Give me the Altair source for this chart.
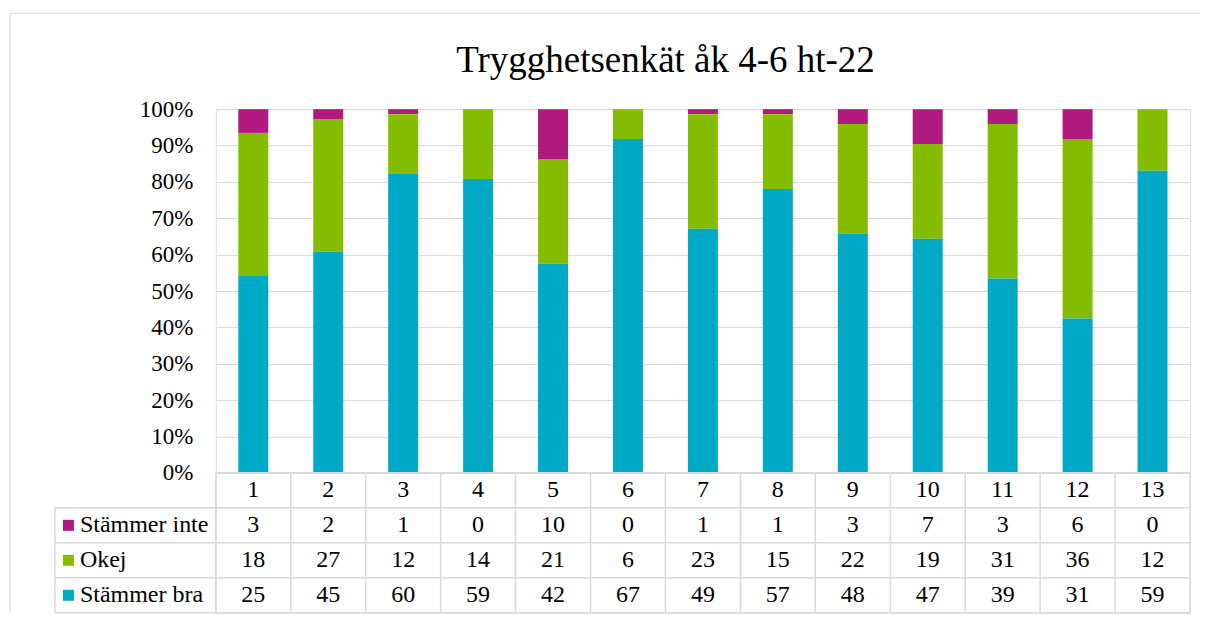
import altair as alt
import pandas as pd

title_text = "Trygghetsenkät åk 4-6 ht-22"
categories = [str(i) for i in range(1, 14)]
series = ["Stämmer inte", "Okej", "Stämmer bra"]
stammer_inte = [3, 2, 1, 0, 10, 0, 1, 1, 3, 7, 3, 6, 0]
okej = [18, 27, 12, 14, 21, 6, 23, 15, 22, 19, 31, 36, 12]
stammer_bra = [25, 45, 60, 59, 42, 67, 49, 57, 48, 47, 39, 31, 59]
colors = ["#B0197E", "#84BC00", "#00A9C6"]
y_ticks = [i / 10 for i in range(11)]

FONT = "'Times New Roman', 'Liberation Serif', 'DejaVu Serif', serif"
GRID = "#d9d9d9"
W, H = 975, 364
TH = 140
LEFT_COL = -161

recs = []
for s, vals in zip(series, [stammer_inte, okej, stammer_bra]):
    for c, v in zip(categories, vals):
        recs.append({"cat": c, "series": s, "count": v,
                     "stackorder": 2 - series.index(s), "row": s, "text": str(v)})
df = pd.DataFrame(recs)
hdr = pd.DataFrame({"cat": categories, "row": ["hdr"] * len(categories), "text": categories})
table_rows = ["hdr"] + series
dummy = pd.DataFrame({"a": [0]})

color_scale = alt.Scale(domain=series, range=colors)

bars = alt.Chart(df).mark_bar().encode(
    x=alt.X("cat:N", sort=categories,
            scale=alt.Scale(paddingInner=0.6, paddingOuter=0.3), axis=None),
    y=alt.Y("count:Q", stack="normalize", scale=alt.Scale(domain=[0, 1]),
            axis=alt.Axis(values=y_ticks, format=".0%", title=None, grid=True,
                          gridColor=GRID, domain=False, ticks=False,
                          labelPadding=23, labelFont=FONT, labelFontSize=23,
                          labelColor="#000000")),
    color=alt.Color("series:N", scale=color_scale, legend=None),
    order=alt.Order("stackorder:Q", sort="ascending"),
)

border_top = alt.Chart(dummy).mark_rule(color=GRID, strokeWidth=1).encode(
    x=alt.value(-206), x2=alt.value(984), y=alt.value(-96))
border_left = alt.Chart(dummy).mark_rule(color=GRID, strokeWidth=1).encode(
    x=alt.value(-206), y=alt.value(-96), y2=alt.value(504))
title_mark = alt.Chart(pd.DataFrame({"t": [title_text]})).mark_text(
    font=FONT, fontSize=37, color="#000000", align="center", baseline="alphabetic"
).encode(x=alt.value(450), y=alt.value(-37), text="t:N")

top = alt.layer(border_top, border_left, title_mark, bars).properties(width=W, height=H)

xs = alt.X("cat:N", sort=categories,
           scale=alt.Scale(type="band", paddingInner=0, paddingOuter=0), axis=None)
ys = alt.Y("row:N", sort=table_rows,
           scale=alt.Scale(type="band", domain=table_rows, paddingInner=0, paddingOuter=0),
           axis=None)

vlines = alt.Chart(hdr).mark_rule(color=GRID, strokeWidth=1.5).encode(
    x=alt.X("cat:N", sort=categories, bandPosition=0,
            scale=alt.Scale(type="band", paddingInner=0, paddingOuter=0), axis=None),
    y=alt.value(0), y2=alt.value(TH))
vright = alt.Chart(dummy).mark_rule(color=GRID, strokeWidth=1.5).encode(
    x=alt.value(W), y=alt.value(0), y2=alt.value(TH))
vleft = alt.Chart(pd.DataFrame({"row": [series[0]]})).mark_rule(color=GRID, strokeWidth=1.5).encode(
    x=alt.value(LEFT_COL),
    y=alt.Y("row:N", sort=table_rows, bandPosition=0,
            scale=alt.Scale(type="band", domain=table_rows, paddingInner=0, paddingOuter=0),
            axis=None),
    y2=alt.value(TH))
htop = alt.Chart(dummy).mark_rule(color=GRID, strokeWidth=1.5).encode(
    x=alt.value(0), x2=alt.value(W), y=alt.value(0))
hrows = alt.Chart(pd.DataFrame({"row": series})).mark_rule(color=GRID, strokeWidth=1.5).encode(
    x=alt.value(LEFT_COL), x2=alt.value(W),
    y=alt.Y("row:N", sort=table_rows, bandPosition=0,
            scale=alt.Scale(type="band", domain=table_rows, paddingInner=0, paddingOuter=0),
            axis=None))
hbottom = alt.Chart(dummy).mark_rule(color=GRID, strokeWidth=1.5).encode(
    x=alt.value(LEFT_COL), x2=alt.value(W), y=alt.value(TH))

txt_style = dict(font=FONT, fontSize=24, color="#000000", baseline="middle")
hdr_text = alt.Chart(hdr).mark_text(align="center", **txt_style).encode(x=xs, y=ys, text="text:N")
val_text = alt.Chart(df).mark_text(align="center", **txt_style).encode(x=xs, y=ys, text="text:N")
row_labels = alt.Chart(pd.DataFrame({"row": series})).mark_text(align="left", **txt_style).encode(
    x=alt.value(-136), y=ys, text="row:N")
squares = alt.Chart(pd.DataFrame({"row": series})).mark_square(size=121, opacity=1).encode(
    x=alt.value(-147.5), y=ys,
    color=alt.Color("row:N", scale=color_scale, legend=None))

table = alt.layer(vlines, vright, vleft, htop, hrows, hbottom,
                  hdr_text, val_text, row_labels, squares).properties(width=W, height=TH)

chart = alt.vconcat(top, table, spacing=0, bounds="flush").resolve_scale(
    x="independent", y="independent", color="independent"
).properties(
    padding={"left": 1, "top": 4, "right": 0, "bottom": 0}
).configure_view(stroke=None).configure(background="white", font=FONT)

chart.save("out.html", embed_options={"renderer": "svg", "actions": False})
